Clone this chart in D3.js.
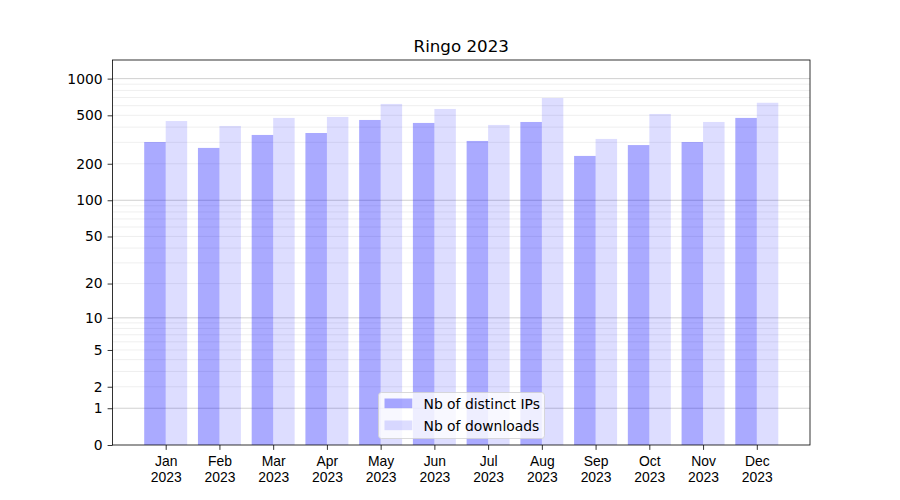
<!DOCTYPE html>
<html>
<head>
<meta charset="utf-8">
<script src="https://cdn.jsdelivr.net/npm/d3@7"></script>
<style>
  body { margin: 0; background: #fff; }
  svg { display: block; font-family: "DejaVu Sans", sans-serif; }
</style>
</head>
<body>
<svg id="chart" width="900" height="500"></svg>
<script>
const months = ["Jan","Feb","Mar","Apr","May","Jun","Jul","Aug","Sep","Oct","Nov","Dec"];
const year = "2023";
const distinctIPs = [302, 270, 345, 358, 458, 433, 308, 441, 232, 285, 302, 476];
const downloads   = [449, 409, 476, 485, 620, 564, 417, 694, 320, 513, 441, 634];
const yTickValues = [0, 1, 2, 5, 10, 20, 50, 100, 200, 500, 1000];
const yMajorGrid = [1, 10, 100, 1000];
const yMinorGrid = [2,3,4,5,6,7,8,9,20,30,40,50,60,70,80,90,200,300,400,500,600,700,800,900];
const seriesNames = ["Nb of distinct IPs", "Nb of downloads"];
const title = "Ringo 2023";

const svg = d3.select("#chart");
const L = 112.5, R = 810, T = 60, B = 445;

const x = d3.scaleLinear().domain([-0.99, 11.99]).range([L, R]);
const y = d3.scaleSymlog().constant(1).domain([0, 1421]).range([B, T]);
const barW = 0.4;

// grid
const g = svg.append("g");
g.selectAll(".minor").data(yMinorGrid).join("line")
  .attr("x1", L).attr("x2", R)
  .attr("y1", d => y(d)).attr("y2", d => y(d))
  .attr("stroke", "#ebebeb").attr("stroke-width", 0.8);
g.selectAll(".major").data(yMajorGrid).join("line")
  .attr("x1", L).attr("x2", R)
  .attr("y1", d => y(d)).attr("y2", d => y(d))
  .attr("stroke", "#c4c4c4").attr("stroke-width", 0.8);

// bars
svg.append("g").selectAll("rect").data(distinctIPs).join("rect")
  .attr("x", (d, i) => x(i - barW))
  .attr("width", (d, i) => x(i) - x(i - barW))
  .attr("y", d => y(d))
  .attr("height", d => y(0) - y(d))
  .attr("fill", "blue").attr("fill-opacity", 1/3);
svg.append("g").selectAll("rect").data(downloads).join("rect")
  .attr("x", (d, i) => x(i))
  .attr("width", (d, i) => x(i + barW) - x(i))
  .attr("y", d => y(d))
  .attr("height", d => y(0) - y(d))
  .attr("fill", "blue").attr("fill-opacity", 0.133);

// axes
const yAxis = d3.axisLeft(y).tickValues(yTickValues).tickFormat(d3.format("d")).tickSize(4.9).tickPadding(4.9);
const ya = svg.append("g").attr("transform", `translate(${L},0)`).call(yAxis);
const xAxis = d3.axisBottom(x).tickValues(d3.range(months.length)).tickFormat(() => "").tickSize(4.9);
const xa = svg.append("g").attr("transform", `translate(0,${B})`).call(xAxis);
[ya, xa].forEach(a => {
  a.select(".domain").remove();
  a.selectAll("line").attr("stroke", "#000").attr("stroke-width", 0.8);
  a.selectAll("text").attr("font-size", "13.9px").attr("font-family", "DejaVu Sans, sans-serif").attr("fill", "#000");
});
xa.selectAll(".tick").each(function(d) {
  const t = d3.select(this).append("text")
    .attr("text-anchor", "middle").attr("font-size", "13.9px").attr("fill", "#000");
  t.append("tspan").attr("x", 0).attr("y", 21).text(months[d]);
  t.append("tspan").attr("x", 0).attr("y", 37).text(year);
});

// frame
svg.append("rect").attr("x", L).attr("y", T).attr("width", R - L).attr("height", B - T)
  .attr("fill", "none").attr("stroke", "#000").attr("stroke-width", 0.8);

// title
svg.append("text").attr("x", (L + R) / 2).attr("y", 52)
  .attr("text-anchor", "middle").attr("font-size", "16.7px").attr("fill", "#000").text(title);

// legend
const lg = svg.append("g");
const lx = 378.5, ly = 392.5, lw = 166, lh = 46;
lg.append("rect").attr("x", lx).attr("y", ly).attr("width", lw).attr("height", lh)
  .attr("rx", 3).attr("fill", "#fff").attr("fill-opacity", 0.8)
  .attr("stroke", "#d0d0d0").attr("stroke-width", 0.8);
const colors = [1/3, 0.133];
seriesNames.forEach((name, i) => {
  const cy = ly + 11 + i * 22;
  lg.append("rect").attr("x", lx + 6).attr("y", cy - 5).attr("width", 27.8).attr("height", 9.7)
    .attr("fill", "blue").attr("fill-opacity", colors[i]);
  lg.append("text").attr("x", lx + 45).attr("y", cy + 5)
    .attr("font-size", "13.9px").attr("fill", "#000").text(name);
});
</script>
</body>
</html>
